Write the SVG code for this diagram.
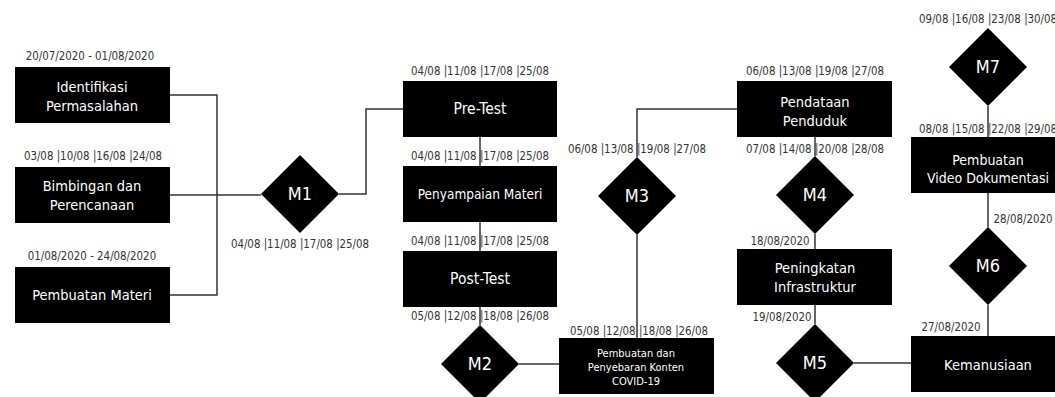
<svg xmlns="http://www.w3.org/2000/svg" width="1055" height="397" viewBox="0 0 1055 397">
<style>
.box{fill:#000}
.dia{fill:#000}
.t{fill:#fff;font-family:"DejaVu Sans Condensed","DejaVu Sans",sans-serif;font-size:14.5px;text-anchor:middle}
.ts{fill:#fff;font-family:"DejaVu Sans Condensed","DejaVu Sans",sans-serif;font-size:11px;text-anchor:middle}
.tm{fill:#fff;font-family:"DejaVu Sans Condensed","DejaVu Sans",sans-serif;font-size:18px;text-anchor:middle}
.lb{fill:#333;font-family:"DejaVu Sans Condensed","DejaVu Sans",sans-serif;font-size:11.4px;text-anchor:middle}
.c{fill:none;stroke:#333;stroke-width:1.5}
</style>
<rect width="1055" height="397" fill="#fff"/>
<g id="connectors">
<path class="c" d="M170,95 H217 V295 H170"/>
<path class="c" d="M170,195 H261"/>
<path class="c" d="M339,194 H366 V109 H403"/>
<path class="c" d="M480,137 V166 M480,222 V251 M480,307 V325"/>
<path class="c" d="M519,364 H559"/>
<path class="c" d="M637,338 V235"/>
<path class="c" d="M637,157 V109 H737"/>
<path class="c" d="M815,137 V156 M815,234 V249 M815,305 V324"/>
<path class="c" d="M854,363 H911"/>
<path class="c" d="M988,106 V137 M988,193 V227 M988,305 V336"/>
</g>
<g id="n_identifikasi">
<text class="lb" x="90" y="60">20/07/2020 - 01/08/2020</text>
<rect class="box" x="15" y="67" width="155" height="56"/>
<text class="t" x="92" y="92">Identifikasi</text>
<text class="t" x="92" y="111">Permasalahan</text>
</g>
<g id="n_bimbingan">
<text class="lb" x="93" y="160">03/08 |10/08 |16/08 |24/08</text>
<rect class="box" x="15" y="167" width="155" height="56"/>
<text class="t" x="92" y="191">Bimbingan dan</text>
<text class="t" x="92" y="210">Perencanaan</text>
</g>
<g id="n_materi">
<text class="lb" x="92" y="260">01/08/2020 - 24/08/2020</text>
<rect class="box" x="15" y="267" width="155" height="56"/>
<text class="t" x="92" y="300">Pembuatan Materi</text>
</g>
<g id="n_m1">
<polygon class="dia" points="300,155 339,194 300,233 261,194"/>
<text class="tm" x="300" y="200">M1</text>
<text class="lb" x="300" y="248">04/08 |11/08 |17/08 |25/08</text>
</g>
<g id="n_pretest">
<text class="lb" x="480" y="75">04/08 |11/08 |17/08 |25/08</text>
<rect class="box" x="403" y="81" width="154" height="56"/>
<text class="t" x="480" y="114" style="font-size:15.5px">Pre-Test</text>
</g>
<g id="n_penyampaian">
<text class="lb" x="480" y="160">04/08 |11/08 |17/08 |25/08</text>
<rect class="box" x="403" y="166" width="154" height="56"/>
<text class="t" x="480" y="199" style="font-size:13.5px">Penyampaian Materi</text>
</g>
<g id="n_posttest">
<text class="lb" x="480" y="245">04/08 |11/08 |17/08 |25/08</text>
<rect class="box" x="403" y="251" width="154" height="56"/>
<text class="t" x="480" y="284" style="font-size:15.5px">Post-Test</text>
<text class="lb" x="480" y="320">05/08 |12/08 |18/08 |26/08</text>
</g>
<g id="n_m2">
<polygon class="dia" points="480,325 519,364 480,403 441,364"/>
<text class="tm" x="480" y="370">M2</text>
</g>
<g id="n_covid">
<text class="lb" x="639" y="335">05/08 |12/08 |18/08 |26/08</text>
<rect class="box" x="559" y="338" width="155" height="56"/>
<text class="ts" x="636" y="357">Pembuatan dan</text>
<text class="ts" x="636" y="371">Penyebaran Konten</text>
<text class="ts" x="636" y="385">COVID-19</text>
</g>
<g id="n_m3">
<text class="lb" x="637" y="153">06/08 |13/08 |19/08 |27/08</text>
<polygon class="dia" points="637,157 676,196 637,235 598,196"/>
<text class="tm" x="637" y="202">M3</text>
</g>
<g id="n_pendataan">
<text class="lb" x="815" y="75">06/08 |13/08 |19/08 |27/08</text>
<rect class="box" x="737" y="81" width="155" height="56"/>
<text class="t" x="815" y="107">Pendataan</text>
<text class="t" x="815" y="126">Penduduk</text>
<text class="lb" x="815" y="153">07/08 |14/08 |20/08 |28/08</text>
</g>
<g id="n_m4">
<polygon class="dia" points="815,156 854,195 815,234 776,195"/>
<text class="tm" x="815" y="201">M4</text>
<text class="lb" x="780" y="245">18/08/2020</text>
</g>
<g id="n_peningkatan">
<rect class="box" x="737" y="249" width="155" height="56"/>
<text class="t" x="815" y="273">Peningkatan</text>
<text class="t" x="815" y="292">Infrastruktur</text>
<text class="lb" x="782" y="321">19/08/2020</text>
</g>
<g id="n_m5">
<polygon class="dia" points="815,324 854,363 815,402 776,363"/>
<text class="tm" x="815" y="369">M5</text>
</g>
<g id="n_m7">
<text class="lb" x="988" y="23">09/08 |16/08 |23/08 |30/08</text>
<polygon class="dia" points="988,28 1027,67 988,106 949,67"/>
<text class="tm" x="988" y="73">M7</text>
</g>
<g id="n_video">
<text class="lb" x="988" y="133">08/08 |15/08 |22/08 |29/08</text>
<rect class="box" x="911" y="137" width="155" height="56"/>
<text class="t" x="988" y="165" style="font-size:14px">Pembuatan</text>
<text class="t" x="988" y="183" style="font-size:14px">Video Dokumentasi</text>
</g>
<g id="n_m6">
<text class="lb" x="1023" y="223">28/08/2020</text>
<polygon class="dia" points="988,227 1027,266 988,305 949,266"/>
<text class="tm" x="988" y="272">M6</text>
<text class="lb" x="951" y="331">27/08/2020</text>
</g>
<g id="n_kemanusiaan">
<rect class="box" x="911" y="336" width="155" height="56"/>
<text class="t" x="988" y="370">Kemanusiaan</text>
</g>
</svg>
